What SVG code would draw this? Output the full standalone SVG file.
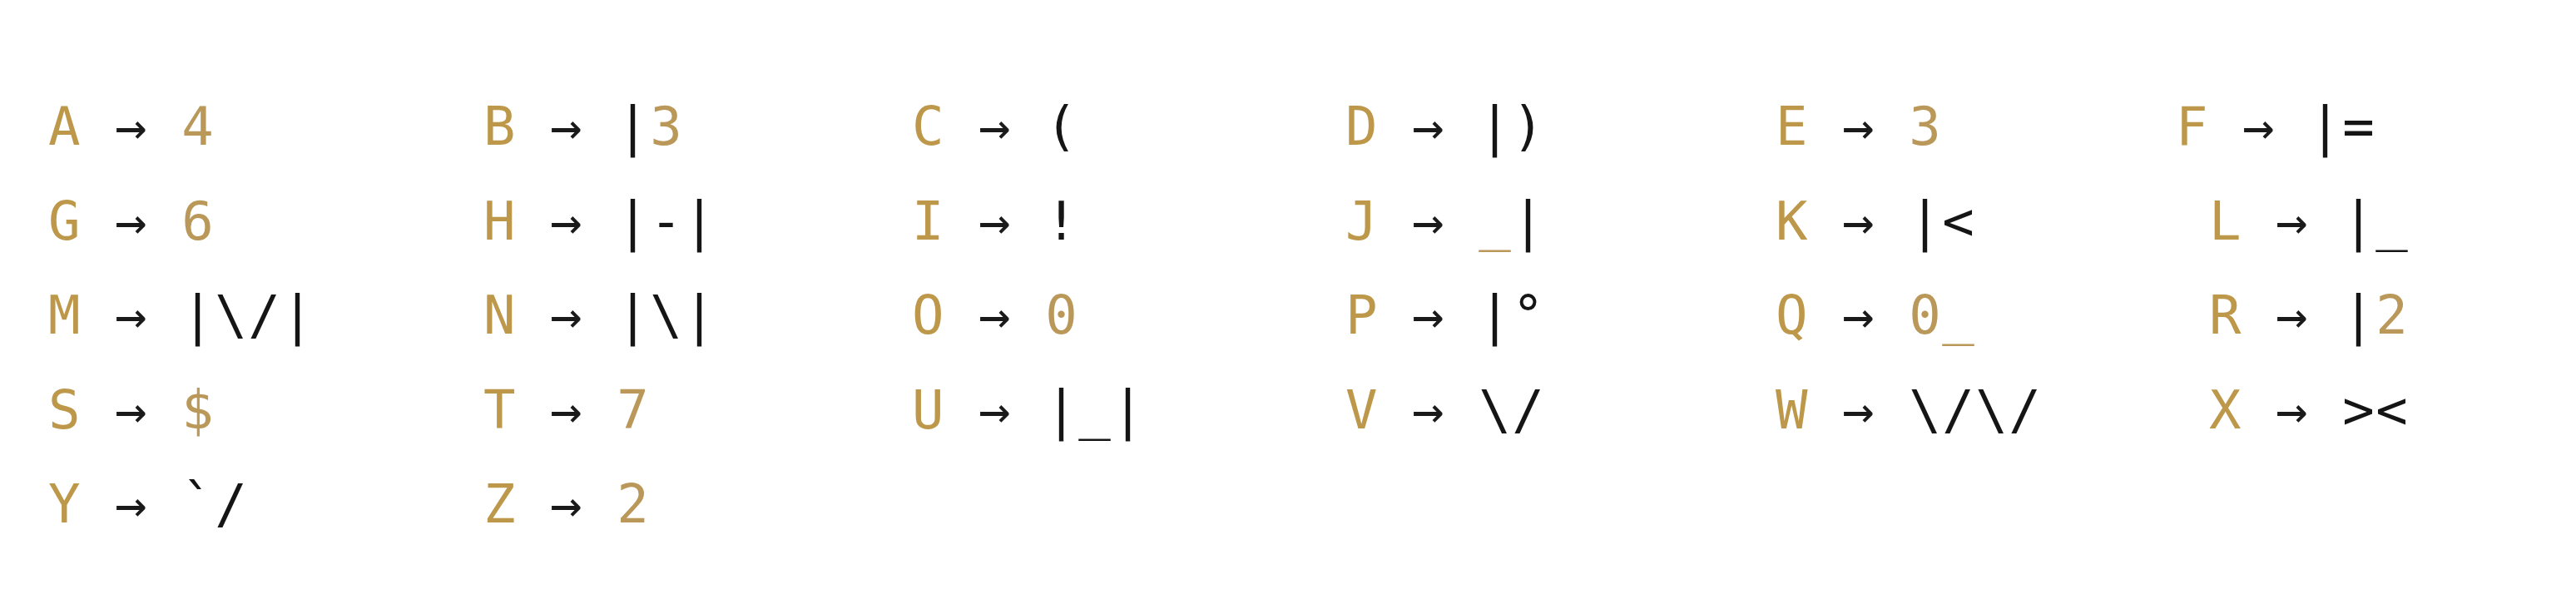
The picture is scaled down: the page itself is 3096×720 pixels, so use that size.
<svg xmlns="http://www.w3.org/2000/svg" width="3096" height="720" viewBox="0 0 3096 720">
<style>
text { font-family: "DejaVu Sans Mono", "Liberation Mono", monospace; font-size: 64px; letter-spacing: 1.5px; }
.g { fill: #BE984A; }
.a { fill: #1A1A1A; }
.k { fill: #151515; }
.d { fill: #B9985A; }
</style>
<rect width="3096" height="720" fill="#FFFFFF"/>
<g id="row1">
<g id="A"><text x="58" y="174"><tspan class="g">A</tspan> <tspan class="a">→</tspan> <tspan class="d">4</tspan></text></g>
<g id="B"><text x="581" y="174"><tspan class="g">B</tspan> <tspan class="a">→</tspan> <tspan class="k">|</tspan><tspan class="d">3</tspan></text></g>
<g id="C"><text x="1096" y="174"><tspan class="g">C</tspan> <tspan class="a">→</tspan> <tspan class="k">(</tspan></text></g>
<g id="D"><text x="1617" y="174"><tspan class="g">D</tspan> <tspan class="a">→</tspan> <tspan class="k">|)</tspan></text></g>
<g id="E"><text x="2134" y="174"><tspan class="g">E</tspan> <tspan class="a">→</tspan> <tspan class="d">3</tspan></text></g>
<g id="F"><text x="2615" y="174"><tspan class="g">F</tspan> <tspan class="a">→</tspan> <tspan class="k">|=</tspan></text></g>
</g>
<g id="row2">
<g id="G"><text x="58" y="288"><tspan class="g">G</tspan> <tspan class="a">→</tspan> <tspan class="d">6</tspan></text></g>
<g id="H"><text x="581" y="288"><tspan class="g">H</tspan> <tspan class="a">→</tspan> <tspan class="k">|-|</tspan></text></g>
<g id="I"><text x="1096" y="288"><tspan class="g">I</tspan> <tspan class="a">→</tspan> <tspan class="k">!</tspan></text></g>
<g id="J"><text x="1617" y="288"><tspan class="g">J</tspan> <tspan class="a">→</tspan> <tspan class="d">_</tspan><tspan class="k">|</tspan></text></g>
<g id="K"><text x="2134" y="288"><tspan class="g">K</tspan> <tspan class="a">→</tspan> <tspan class="k">|&lt;</tspan></text></g>
<g id="L"><text x="2655" y="288"><tspan class="g">L</tspan> <tspan class="a">→</tspan> <tspan class="k">|_</tspan></text></g>
</g>
<g id="row3">
<g id="M"><text x="58" y="401"><tspan class="g">M</tspan> <tspan class="a">→</tspan> <tspan class="k">|\/|</tspan></text></g>
<g id="N"><text x="581" y="401"><tspan class="g">N</tspan> <tspan class="a">→</tspan> <tspan class="k">|\|</tspan></text></g>
<g id="O"><text x="1096" y="401"><tspan class="g">O</tspan> <tspan class="a">→</tspan> <tspan class="d">0</tspan></text></g>
<g id="P"><text x="1617" y="401"><tspan class="g">P</tspan> <tspan class="a">→</tspan> <tspan class="k">|°</tspan></text></g>
<g id="Q"><text x="2134" y="401"><tspan class="g">Q</tspan> <tspan class="a">→</tspan> <tspan class="d">0_</tspan></text></g>
<g id="R"><text x="2655" y="401"><tspan class="g">R</tspan> <tspan class="a">→</tspan> <tspan class="k">|</tspan><tspan class="d">2</tspan></text></g>
</g>
<g id="row4">
<g id="S"><text x="58" y="515"><tspan class="g">S</tspan> <tspan class="a">→</tspan> <tspan class="d">$</tspan></text></g>
<g id="T"><text x="581" y="515"><tspan class="g">T</tspan> <tspan class="a">→</tspan> <tspan class="d">7</tspan></text></g>
<g id="U"><text x="1096" y="515"><tspan class="g">U</tspan> <tspan class="a">→</tspan> <tspan class="k">|_|</tspan></text></g>
<g id="V"><text x="1617" y="515"><tspan class="g">V</tspan> <tspan class="a">→</tspan> <tspan class="k">\/</tspan></text></g>
<g id="W"><text x="2134" y="515"><tspan class="g">W</tspan> <tspan class="a">→</tspan> <tspan class="k">\/\/</tspan></text></g>
<g id="X"><text x="2655" y="515"><tspan class="g">X</tspan> <tspan class="a">→</tspan> <tspan class="k">&gt;&lt;</tspan></text></g>
</g>
<g id="row5">
<g id="Y"><text x="58" y="628"><tspan class="g">Y</tspan> <tspan class="a">→</tspan> <tspan class="k">`/</tspan></text></g>
<g id="Z"><text x="581" y="628"><tspan class="g">Z</tspan> <tspan class="a">→</tspan> <tspan class="d">2</tspan></text></g>
</g>
<g id="connectors"></g>
</svg>
